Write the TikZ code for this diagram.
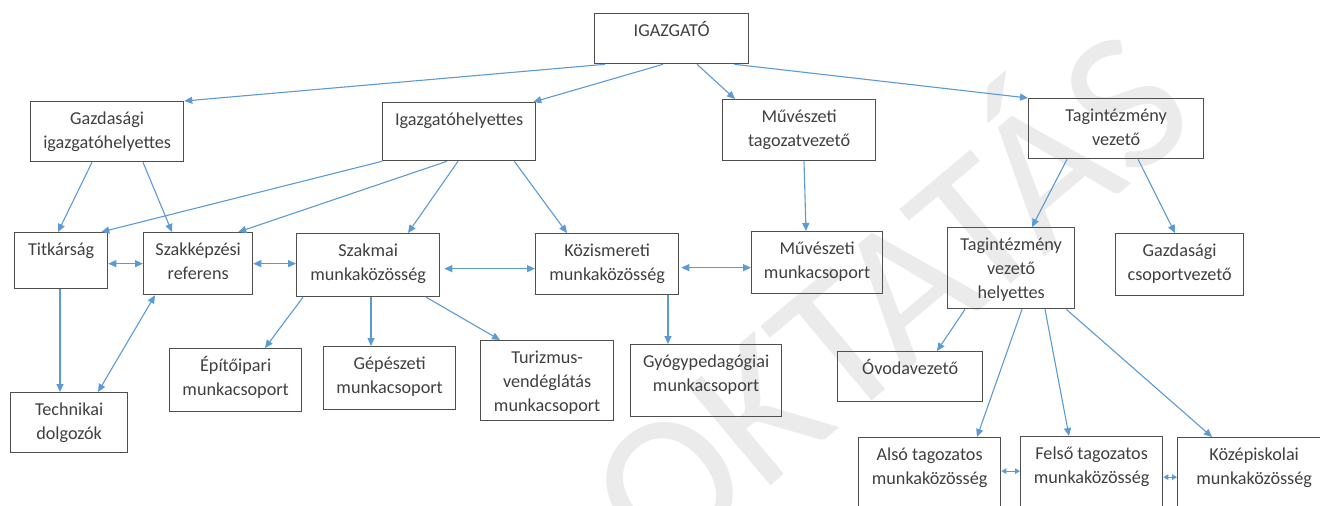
\documentclass[tikz,border=0pt]{standalone}
\usepackage{fontspec}
\setmainfont{Carlito}
\usetikzlibrary{arrows.meta}

\definecolor{arrowblue}{HTML}{5B9BD5}
\definecolor{boxgray}{HTML}{4F4F4F}
\definecolor{textgray}{HTML}{404040}
\definecolor{markgray}{HTML}{EBEBEB}

\newcommand{\boxtext}[3]{\parbox[c][#2pt][t]{#1pt}{\vspace*{6pt}\centering\strut #3}}

\begin{document}
\begin{tikzpicture}[x=1pt, y=-1pt,
	orgbox/.style={draw=boxgray, line width=1.3pt, inner sep=0pt, anchor=north west,
		text=textgray, font=\fontsize{18.2}{24}\selectfont},
	conn/.style={draw=arrowblue, line width=1.1pt, -{Triangle[length=8pt,width=7pt]}},
	twoway/.style={conn, {Triangle[length=8pt,width=7pt]}-{Triangle[length=8pt,width=7pt]}},
	twosmall/.style={conn, {Triangle[length=5pt,width=5.5pt]}-{Triangle[length=5pt,width=5.5pt]}}]

% frame %{{{2

	\useasboundingbox (0,0) rectangle (1320,506);
	\clip (0,0) rectangle (1320,506);
	\fill[white] (0,0) rectangle (1320,506);

% watermark %{{{2

	\node[text=markgray, font=\fontsize{200}{200}\selectfont, rotate=40] (mark) at (878,288) {OKTATÁS};

% boxes, first rows %{{{2

	\node[orgbox] (igazgato) at (594,13) {\boxtext{154}{50}{IGAZGATÓ}};

	\node[orgbox] (gazdigh) at (30,101) {\boxtext{153}{60}{Gazdasági\\igazgatóhelyettes}};
	\node[orgbox] (igh) at (382,102) {\boxtext{153}{58}{Igazgatóhelyettes}};
	\node[orgbox] (muvtag) at (722,99) {\boxtext{153}{61}{Művészeti\\tagozatvezető}};
	\node[orgbox] (tagvez) at (1028,98) {\boxtext{175}{60}{Tagintézmény\\vezető}};

% boxes, middle row %{{{2

	\node[orgbox] (titkar) at (14,232) {\boxtext{93}{56}{Titkárság}};
	\node[orgbox] (szakkep) at (143,232) {\boxtext{109}{62}{Szakképzési\\referens}};
	\node[orgbox] (szakmai) at (296,233) {\boxtext{143}{63}{Szakmai\\munkaközösség}};
	\node[orgbox] (kozism) at (535,233) {\boxtext{143}{61}{Közismereti\\munkaközösség}};
	\node[orgbox] (muvmcs) at (751,231) {\boxtext{131}{62}{Művészeti\\munkacsoport}};
	\node[orgbox] (taghely) at (947,227) {\boxtext{127}{81}{Tagintézmény\\vezető\\helyettes}};
	\node[orgbox] (gazdcs) at (1115,233) {\boxtext{128}{62}{Gazdasági\\csoportvezető}};

% boxes, lower rows %{{{2

	\node[orgbox] (techn) at (10,392) {\boxtext{117}{60}{Technikai\\dolgozók}};
	\node[orgbox] (epito) at (169,348) {\boxtext{132}{63}{Építőipari\\munkacsoport}};
	\node[orgbox] (gepesz) at (323,346) {\boxtext{132}{63}{Gépészeti\\munkacsoport}};
	\node[orgbox] (turizmus) at (480,340) {\boxtext{133}{80}{Turizmus-\\vendéglátás\\munkacsoport}};
	\node[orgbox] (gyogy) at (630,344) {\boxtext{151}{72}{Gyógypedagógiai\\munkacsoport}};
	\node[orgbox] (ovoda) at (837,351) {\boxtext{145}{50}{Óvodavezető}};

	\node[orgbox] (also) at (858,437) {\boxtext{142}{76}{Alsó tagozatos\\munkaközösség}};
	\node[orgbox] (felso) at (1020,436) {\boxtext{142}{77}{Felső tagozatos\\munkaközösség}};
	\node[orgbox] (kozepisk) at (1177,437) {\boxtext{153}{76}{Középiskolai\\munkaközösség}};

% from igazgato %{{{2

	\draw[conn] ([xshift=11pt]igazgato.south west) -- (gazdigh.north east);
	\draw[conn] ([xshift=69pt]igazgato.south west) -- ([xshift=-3pt]igh.north east);
	\draw[conn] ([xshift=103pt]igazgato.south west) -- ([xshift=13pt]muvtag.north west);
	\draw[conn] ([xshift=-15pt]igazgato.south east) -- (tagvez.north west);

% from the deputies %{{{2

	\draw[conn] ([xshift=62pt]gazdigh.south west) -- ([xshift=44pt]titkar.north west);
	\draw[conn] ([xshift=113pt]gazdigh.south west) -- ([xshift=29pt]szakkep.north west);

	\draw[conn] (igh.south west) -- ([xshift=-7pt]titkar.north east);
	\draw[conn] ([xshift=65pt]igh.south west) -- ([xshift=-15pt]szakkep.north east);
	\draw[conn] ([xshift=76pt]igh.south west) -- ([xshift=112pt]szakmai.north west);
	\draw[conn] ([xshift=-22pt]igh.south east) -- ([xshift=32pt]kozism.north west);

	\draw[conn] ([xshift=82pt]muvtag.south west) -- ([xshift=55pt]muvmcs.north west);

	\draw[conn] ([xshift=39pt]tagvez.south west) -- ([xshift=85pt]taghely.north west);
	\draw[conn] ([xshift=110pt]tagvez.south west) -- ([xshift=60pt]gazdcs.north west);

% lower levels %{{{2

	\draw[conn] ([xshift=46pt]titkar.south west) -- ([xshift=50pt]techn.north west);
	\draw[twoway] ([xshift=12pt]szakkep.south west) -- ([xshift=88pt]techn.north west);

	\draw[conn] ([xshift=7pt]szakmai.south west) -- ([xshift=96pt]epito.north west);
	\draw[conn] ([xshift=75pt]szakmai.south west) -- ([xshift=48pt]gepesz.north west);
	\draw[conn] ([xshift=-14pt]szakmai.south east) -- ([xshift=20pt]turizmus.north west);

	\draw[conn] ([xshift=133pt]kozism.south west) -- ([xshift=38pt]gyogy.north west);

	\draw[conn] ([xshift=18pt]taghely.south west) -- ([xshift=100pt]ovoda.north west);
	\draw[conn] ([xshift=75pt]taghely.south west) -- ([xshift=119pt]also.north west);
	\draw[conn] ([xshift=98pt]taghely.south west) -- ([xshift=49pt]felso.north west);
	\draw[conn] ([xshift=-9pt]taghely.south east) -- ([xshift=35pt]kozepisk.north west);

% side links %{{{2

	\draw[twoway] (titkar.east |- szakkep.west) -- (szakkep.west);
	\draw[twoway] (szakkep.east) -- (szakmai.west |- szakkep.east);
	\draw[twoway] ([xshift=4pt,yshift=-3.5pt]szakmai.east) -- ([yshift=-4.5pt]kozism.west);
	\draw[twoway] ([xshift=2pt,yshift=-3.5pt]kozism.east) -- ([yshift=-5pt]muvmcs.west);

	\draw[twosmall] ([yshift=4.5pt]also.east) -- ([yshift=4pt]felso.west);
	\draw[twosmall] ([yshift=-2pt]felso.east) -- ([yshift=-1.5pt]kozepisk.west);

% closing %{{{2

\end{tikzpicture}
\end{document}
